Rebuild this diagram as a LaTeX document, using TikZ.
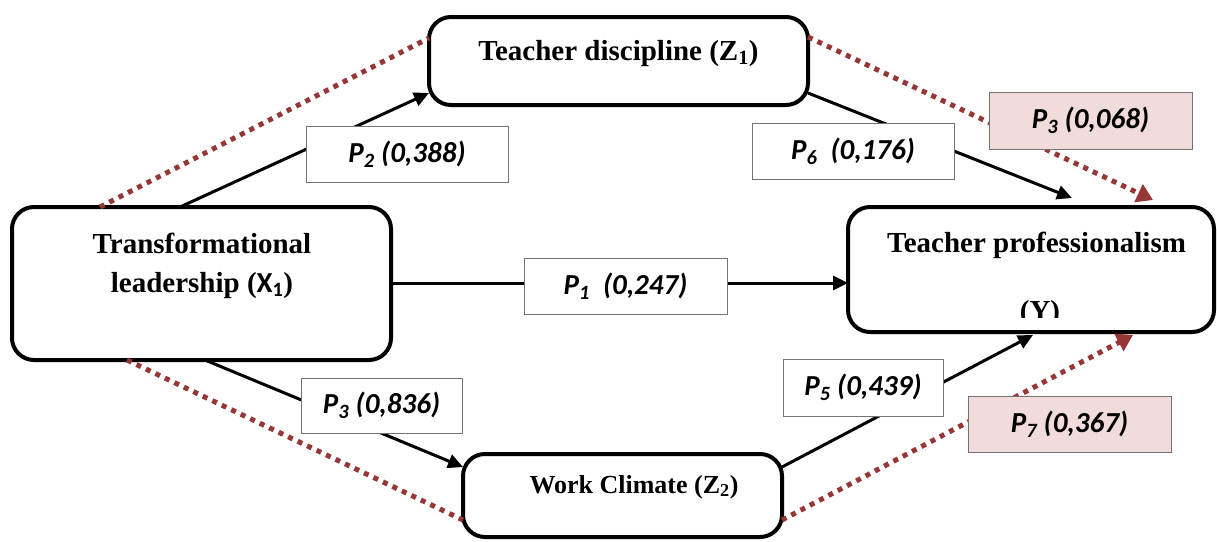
\documentclass[tikz,border=0pt]{standalone}
\usepackage{fontspec}
\setmainfont{Liberation Serif}
\newfontfamily\lblfont{Carlito}
\usetikzlibrary{arrows.meta,calc}
\definecolor{dred}{HTML}{953735}
\definecolor{pinkfill}{HTML}{F2DCDB}
\tikzset{
 varbox/.style={draw, line width=4pt, rounded corners=22pt, outer sep=0pt, inner sep=0pt},
 title/.style={font=\fontsize{29}{40}\selectfont\bfseries, inner sep=0pt, anchor=base},
 smalltitle/.style={title, font=\fontsize{26}{32}\selectfont\bfseries},
 lbl/.style={draw=black!55, line width=1pt, fill=white, inner sep=0pt, outer sep=0pt,
   font=\lblfont\fontsize{29}{32}\selectfont\bfseries\itshape},
 pinklbl/.style={lbl, fill=pinkfill},
 conn/.style={line width=3pt, -{Triangle[length=15pt,width=14pt]}},
 dotline/.style={draw=dred, line width=5pt, dash pattern=on 5pt off 5.5pt},
 dotarrow/.style={dotline, -{Triangle[length=16pt,width=19pt,fill=dred]}}
}
\begin{document}
\begin{tikzpicture}[x=1pt,y=-1pt]
\useasboundingbox (0,0) rectangle (1217,541);
% variable boxes
\node[varbox, minimum width=379pt, minimum height=153pt] (X) at (201.5,283.5) {};
\node[varbox, minimum width=379pt, minimum height=88pt] (Z1) at (618.5,61) {};
\node[varbox, minimum width=366pt, minimum height=125pt] (Y) at (1031,269.5) {};
\node[varbox, minimum width=319pt, minimum height=83pt] (Z2) at (622.5,495.5) {};
% titles
\node[title] (Xt1) at (202,253) {Transformational};
\node[title] (Xt2) at (202,292) {leadership ({\lblfont X\textsubscript{1}})};
\node[title] (Z1t) at (618.5,60) {Teacher discipline (Z\textsubscript{1})};
\node[title] (Yt1) at (1036.5,252) {Teacher professionalism};
\begin{scope}
\clip (850,209) rectangle (1212,317);
\node[title] (Yt2) at (1040,320) {(Y)};
\end{scope}
\node[smalltitle] (Z2t) at (634,493) {Work Climate (Z\textsubscript{2})};
% dotted red lines
\draw[dotline] ($(X.north west)+(88,0)$) -- ($(Z1.north west)+(0,21)$);
\draw[dotarrow] ($(Z1.north east)+(0,20)$) -- ($(Y.north west)+(305,-7)$);
\draw[dotline] ($(X.south west)+(115,0)$) -- ($(Z2.south west)+(0,-17)$);
\draw[dotarrow] ($(Z2.south east)+(0,-17)$) -- ($(Y.south west)+(285,3)$);
% black arrows
\draw[conn] ($(X.north west)+(168,0)$) -- ($(Z1.south west)+(0,-12)$);
\draw[conn] ($(Z1.south east)+(0,-12)$) -- ($(Y.north west)+(224,-9)$);
\draw[conn] ($(X.north east)+(0,76)$) -- ($(Y.north west)+(0,76)$);
\draw[conn] ($(X.south west)+(193,0)$) -- ($(Z2.north west)+(0,13)$);
\draw[conn] ($(Z2.north east)+(0,13)$) -- ($(Y.south west)+(185,3)$);
% labels
\node[lbl, minimum width=202pt, minimum height=56pt] (p2) at (407,154) {P\textsubscript{2} (0,388)};
\node[lbl, minimum width=202pt, minimum height=56pt] (p6) at (853,151) {P\textsubscript{6}\ \ (0,176)};
\node[pinklbl, minimum width=203pt, minimum height=57pt] (p3a) at (1090.5,120.5) {P\textsubscript{3} (0,068)};
\node[lbl, minimum width=203pt, minimum height=56pt] (p1) at (625.5,286) {P\textsubscript{1}\ \ (0,247)};
\node[lbl, minimum width=161pt, minimum height=55pt] (p3b) at (381.5,405.5) {P\textsubscript{3} (0,836)};
\node[lbl, minimum width=160pt, minimum height=57pt] (p5) at (863,387.5) {P\textsubscript{5} (0,439)};
\node[pinklbl, minimum width=203pt, minimum height=56pt] (p7) at (1069.5,424) {P\textsubscript{7} (0,367)};
\end{tikzpicture}
\end{document}
